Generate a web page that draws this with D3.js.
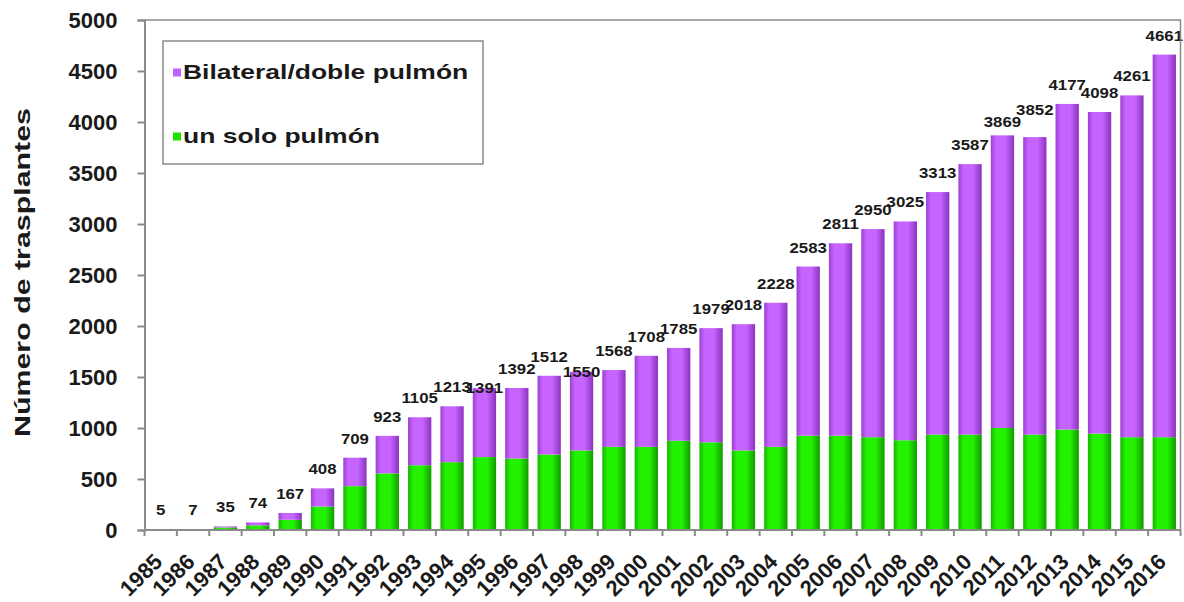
<!DOCTYPE html>
<html>
<head>
<meta charset="utf-8">
<script src="https://cdn.jsdelivr.net/npm/d3@7"></script>
<style>
  html, body { margin: 0; padding: 0; background: #fff; }
  svg { display: block; }
  text { font-family: "Liberation Sans", Arial, sans-serif; font-weight: bold; fill: #1a1a1a; }
</style>
</head>
<body>
<svg id="chart" width="1184" height="602"></svg>
<script>
// Lung transplants per year, split by procedure type
const years = ["1985","1986","1987","1988","1989","1990","1991","1992","1993","1994",
  "1995","1996","1997","1998","1999","2000","2001","2002","2003","2004","2005",
  "2006","2007","2008","2009","2010","2011","2012","2013","2014","2015","2016"];

// single lung (green, bottom segment)
const single = [0, 0, 25, 45, 100, 230, 430, 555, 635, 665, 715, 700, 740, 780, 815, 815,
  875, 860, 780, 815, 925, 925, 910, 880, 935, 935, 1000, 935, 985, 945, 910, 910];

// bilateral / double lung (purple, top segment)
const bilateral = [5, 7, 10, 29, 67, 178, 279, 368, 470, 548, 676, 692, 772, 770, 753, 893,
  910, 1119, 1238, 1413, 1658, 1886, 2040, 2145, 2378, 2652, 2869, 2917, 3192, 3153, 3351, 3751];

const yTicks = [0, 500, 1000, 1500, 2000, 2500, 3000, 3500, 4000, 4500, 5000];

const seriesNames = ["un solo pulmón", "Bilateral/doble pulmón"];
const yTitle = "Número de trasplantes";

// a few total labels were hand-placed to avoid collisions (vertical shift in px)
const labelShift = { "1995": 19, "1998": 19, "2011": 6, "2012": -8 };

const rows = years.map((yr, i) => ({ year: yr, single: single[i], bilateral: bilateral[i] }));

const svg = d3.select("#chart");
const plotLeft = 144.5, plotRight = 1180.5, plotTop = 20, plotBottom = 530;

const x = d3.scaleBand().domain(years).range([plotLeft, plotRight]).paddingInner(0.28).paddingOuter(0.14);
const y = d3.scaleLinear().domain([0, 5000]).range([plotBottom, plotTop]);

// widen a text run horizontally (the chart uses a wide bold face)
function widen(sel, factor) {
  sel.each(function () {
    const w = this.getComputedTextLength();
    d3.select(this).attr("textLength", w * factor).attr("lengthAdjust", "spacingAndGlyphs");
  });
}

// horizontal shading for the bars
const defs = svg.append("defs");
function shade(id, edgeL, mid, edgeR) {
  const g = defs.append("linearGradient").attr("id", id).attr("x1", "0").attr("x2", "1").attr("y1", "0").attr("y2", "0");
  g.append("stop").attr("offset", "0").attr("stop-color", edgeL);
  g.append("stop").attr("offset", "0.22").attr("stop-color", mid);
  g.append("stop").attr("offset", "0.62").attr("stop-color", mid);
  g.append("stop").attr("offset", "1").attr("stop-color", edgeR);
}
shade("gGreen", "#17b400", "#22f200", "#129a00");
shade("gPurple", "#9a40d2", "#c764ff", "#8a34be");

const fills = { single: "url(#gGreen)", bilateral: "url(#gPurple)" };

const stack = d3.stack().keys(["single", "bilateral"]);
const layers = stack(rows);

svg.append("g").selectAll("g").data(layers).join("g")
  .attr("fill", d => fills[d.key])
  .selectAll("rect").data(d => d).join("rect")
    .attr("x", d => x(d.data.year))
    .attr("width", x.bandwidth())
    .attr("y", d => y(d[1]))
    .attr("height", d => Math.max(0, y(d[0]) - y(d[1])));

// total labels above each stack
const topLayer = layers[layers.length - 1];
svg.append("g").selectAll("text").data(topLayer).join("text")
  .attr("x", d => x(d.data.year) + x.bandwidth() / 2)
  .attr("y", d => y(d[1]) - 14 + (labelShift[d.data.year] || 0))
  .attr("text-anchor", "middle")
  .style("font-size", "15px")
  .text(d => d[1])
  .call(widen, 1.12);

// frame: top and right edges
const axisColor = "#8a8a8a";
svg.append("path")
  .attr("d", `M${plotLeft},${plotTop}H${plotRight}V${plotBottom}`)
  .attr("fill", "none").attr("stroke", axisColor).attr("stroke-width", 1.5);

// y axis
const yAxis = svg.append("g").attr("transform", `translate(${plotLeft},0)`)
  .call(d3.axisLeft(y).tickValues(yTicks).tickSize(7).tickPadding(20).tickFormat(d3.format("d")));
yAxis.select(".domain").attr("stroke", axisColor).attr("stroke-width", 2);
yAxis.selectAll(".tick line").attr("stroke", axisColor).attr("stroke-width", 2);
yAxis.selectAll(".tick text").style("font-size", "22px").attr("font-family", null).attr("fill", "#1a1a1a");

// x axis: line, ticks between categories, rotated year labels
svg.append("line").attr("x1", plotLeft).attr("x2", plotRight).attr("y1", plotBottom).attr("y2", plotBottom)
  .attr("stroke", axisColor).attr("stroke-width", 2);
const bounds = years.map(yr => x(yr) - x.step() * x.paddingInner() / 2).concat([plotRight]);
svg.append("g").selectAll("line").data(bounds).join("line")
  .attr("x1", d => d).attr("x2", d => d).attr("y1", plotBottom).attr("y2", plotBottom + 6)
  .attr("stroke", axisColor).attr("stroke-width", 2);

svg.append("g").selectAll("text").data(years).join("text")
  .attr("transform", d => `translate(${x(d) + x.bandwidth() / 2 + 3},${plotBottom + 33}) rotate(-45)`)
  .attr("text-anchor", "end")
  .style("font-size", "22px")
  .text(d => d);

// y axis title
svg.append("text")
  .attr("transform", `translate(30,${(105 + 440) / 2}) rotate(-90)`)
  .attr("text-anchor", "middle")
  .style("font-size", "22px")
  .text(yTitle)
  .call(widen, 1.38);

// legend
const lg = svg.append("g");
lg.append("rect").attr("x", 163).attr("y", 41).attr("width", 320).attr("height", 123)
  .attr("fill", "#fff").attr("stroke", axisColor).attr("stroke-width", 1.5);
const legendItems = [
  { name: seriesNames[1], fill: "#c060ff", cy: 72.5 },
  { name: seriesNames[0], fill: "#20e000", cy: 136.5 }
];
const li = lg.selectAll("g").data(legendItems).join("g");
li.append("rect").attr("x", 173).attr("y", d => d.cy - 4).attr("width", 8).attr("height", 8).attr("fill", d => d.fill);
li.append("text").attr("x", 183).attr("y", d => d.cy + 6).style("font-size", "21px").text(d => d.name)
  .call(widen, 1.26);
</script>
</body>
</html>
